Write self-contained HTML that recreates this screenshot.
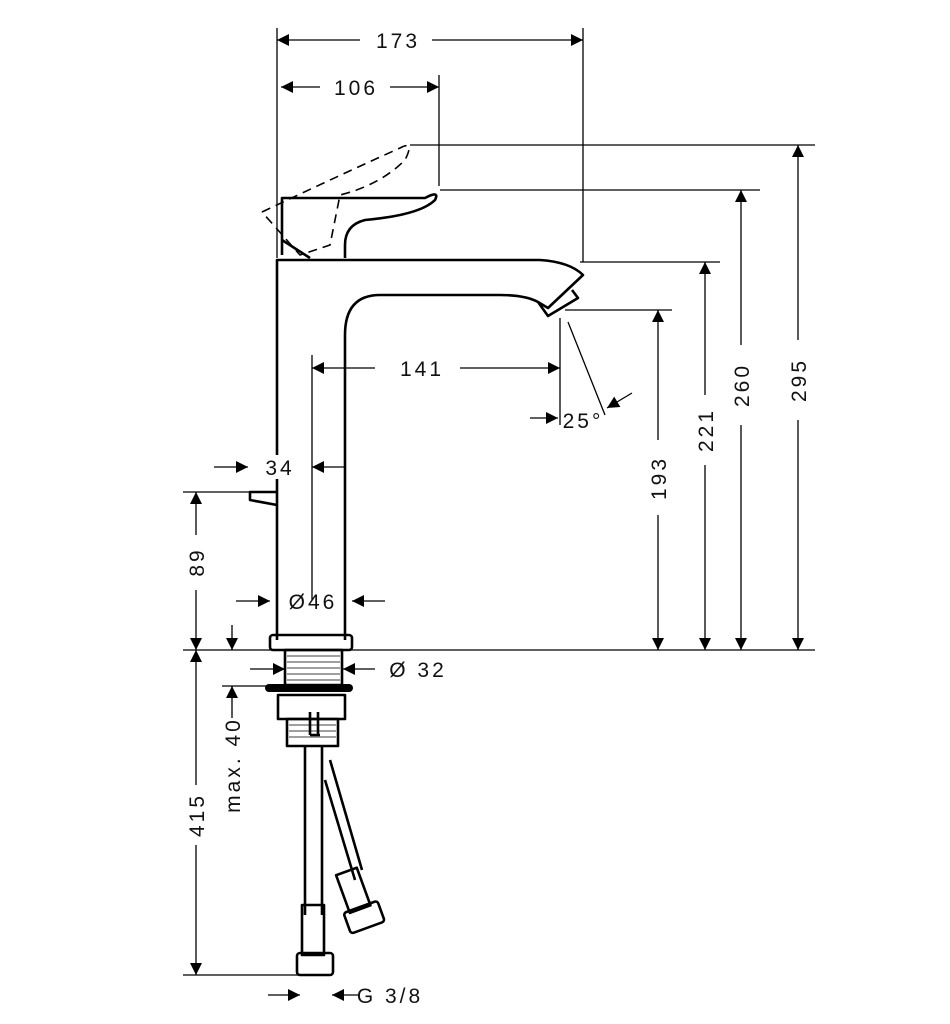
<!DOCTYPE html>
<html><head><meta charset="utf-8"><style>
html,body{margin:0;padding:0;background:#fff}
svg{display:block}
text{font-family:"Liberation Sans",sans-serif;font-size:21px;fill:#111;letter-spacing:3px}
</style></head><body>
<svg width="950" height="1024" viewBox="0 0 950 1024" xmlns="http://www.w3.org/2000/svg">
<defs>
<marker id="a" viewBox="0 0 10 10" refX="10" refY="5" markerWidth="16" markerHeight="12" markerUnits="userSpaceOnUse" orient="auto-start-reverse"><path d="M0,0L10,5L0,10z" fill="#000"/></marker>
</defs>
<g stroke="#000" stroke-width="1.3" fill="none">
<line x1="277" y1="28" x2="277" y2="258"/>
<line x1="583" y1="28" x2="583" y2="262"/>
<line x1="439" y1="75" x2="439" y2="186"/>
<line x1="410" y1="145" x2="815" y2="145"/>
<line x1="440" y1="190" x2="760" y2="190"/>
<line x1="580" y1="262" x2="720" y2="262"/>
<line x1="565" y1="310" x2="672" y2="310"/>
<line x1="183" y1="650" x2="815" y2="650"/>
<line x1="183" y1="492" x2="250" y2="492"/>
<line x1="183" y1="975" x2="300" y2="975"/>
<line x1="222" y1="686" x2="270" y2="686"/>
<line x1="312" y1="355" x2="312" y2="600"/>
<line x1="560" y1="318" x2="560" y2="425"/>
<line x1="568" y1="322" x2="605" y2="415"/>
<line x1="277" y1="42" x2="360" y2="40" stroke="none"/>
<line x1="277" y1="40" x2="360" y2="40" marker-start="url(#a)"/><line x1="432" y1="40" x2="583" y2="40" marker-end="url(#a)"/>
<line x1="281" y1="87" x2="320" y2="87" marker-start="url(#a)"/><line x1="390" y1="87" x2="439" y2="87" marker-end="url(#a)"/>
<line x1="798" y1="145" x2="798" y2="340" marker-start="url(#a)"/><line x1="798" y1="420" x2="798" y2="650" marker-end="url(#a)"/>
<line x1="741" y1="190" x2="741" y2="345" marker-start="url(#a)"/><line x1="741" y1="425" x2="741" y2="650" marker-end="url(#a)"/>
<line x1="705" y1="262" x2="705" y2="395" marker-start="url(#a)"/><line x1="705" y1="465" x2="705" y2="650" marker-end="url(#a)"/>
<line x1="658" y1="310" x2="658" y2="440" marker-start="url(#a)"/><line x1="658" y1="515" x2="658" y2="650" marker-end="url(#a)"/>
<line x1="312" y1="368" x2="375" y2="368" marker-start="url(#a)"/><line x1="460" y1="368" x2="560" y2="368" marker-end="url(#a)"/>
<line x1="530" y1="418" x2="558" y2="418" marker-end="url(#a)"/>
<line x1="632" y1="393" x2="607" y2="408" marker-end="url(#a)"/>
<line x1="214" y1="467" x2="248" y2="467" marker-end="url(#a)"/><line x1="344" y1="467" x2="312" y2="467" marker-end="url(#a)"/>
<line x1="196" y1="492" x2="196" y2="535" marker-start="url(#a)"/><line x1="196" y1="590" x2="196" y2="650" marker-end="url(#a)"/>
<line x1="236" y1="601" x2="270" y2="601" marker-end="url(#a)"/><line x1="385" y1="601" x2="352" y2="601" marker-end="url(#a)"/>
<line x1="232" y1="625" x2="232" y2="650" marker-end="url(#a)"/>
<line x1="196" y1="675" x2="196" y2="650" marker-end="url(#a)"/>
<line x1="196" y1="675" x2="196" y2="785"/><line x1="196" y1="845" x2="196" y2="975" marker-end="url(#a)"/>
<line x1="250" y1="669" x2="285" y2="669" marker-end="url(#a)"/><line x1="375" y1="669" x2="343" y2="669" marker-end="url(#a)"/>
<line x1="232" y1="686" x2="232" y2="718" marker-start="url(#a)"/>
<line x1="268" y1="995" x2="300" y2="995" marker-end="url(#a)"/><line x1="360" y1="995" x2="332" y2="995" marker-end="url(#a)"/>
</g>
<g stroke="#000" stroke-width="2.6" fill="none" stroke-linejoin="round">
<path d="M277,640 L277,260 L540,260 Q570,262 583,275 L548,308 L538,302 Q525,295 500,295 L380,295 Q345,295 345,335 L345,640"/>
<path d="M538,302 L548,316 L578,298 L572,290"/>
<path d="M282,255 L282,198 L425,198 Q440,190 435,200 Q420,215 365,220 Q345,225 345,245 L345,258"/>
<path d="M282,240 L310,258"/>
<path d="M277,492 L250,492 L250,500 L277,505"/>
<rect x="270" y="635" width="82" height="15" rx="3"/>
<rect x="285" y="650" width="57" height="35"/>
<rect x="278" y="695" width="67" height="24"/>
<rect x="287" y="719" width="51" height="27"/>
<path d="M305,746 L305,915 M322,746 L322,915 M325,780 L355,880 M330,760 L362,870"/>
<rect x="302" y="905" width="22" height="50"/>
<rect x="297" y="953" width="36" height="22" rx="3"/>
<g transform="rotate(-20 355 895)"><rect x="344" y="870" width="22" height="40"/><rect x="338" y="908" width="36" height="22" rx="3"/></g>
<path d="M310,712 L310,735 M318,712 L318,735 M310,735 L320,735"/>
</g>
<rect x="265" y="684" width="88" height="8" rx="4" fill="#000"/>
<g stroke="#000" stroke-width="0.8"><path d="M287,656H340M287,662H340M287,668H340M287,674H340M287,680H340M289,725H336M289,731H336M289,737H336"/></g>
<g stroke="#000" stroke-width="1.6" fill="none" stroke-dasharray="9,6">
<path d="M262,212 Q340,175 400,148 Q415,140 405,160 Q380,185 340,195 L330,245 L300,255 L262,212"/>
</g>
<rect x="262" y="455" width="34" height="24" fill="#fff"/>
<text x="280" y="475" text-anchor="middle">34</text>
<text x="398" y="48" text-anchor="middle">173</text>
<text x="356" y="95" text-anchor="middle">106</text>
<text x="422" y="376" text-anchor="middle">141</text>
<text x="583" y="428" text-anchor="middle" font-size="19">25°</text>
<text x="313" y="609" text-anchor="middle">Ø46</text>
<text x="418" y="677" text-anchor="middle">Ø 32</text>
<text x="390" y="1003" text-anchor="middle">G 3/8</text>
<text transform="translate(806,380) rotate(-90)" text-anchor="middle">295</text>
<text transform="translate(749,385) rotate(-90)" text-anchor="middle">260</text>
<text transform="translate(713,430) rotate(-90)" text-anchor="middle">221</text>
<text transform="translate(666,478) rotate(-90)" text-anchor="middle">193</text>
<text transform="translate(204,562) rotate(-90)" text-anchor="middle">89</text>
<text transform="translate(204,815) rotate(-90)" text-anchor="middle">415</text>
<text transform="translate(240,765) rotate(-90)" text-anchor="middle">max. 40</text>
</svg>
</body></html>
